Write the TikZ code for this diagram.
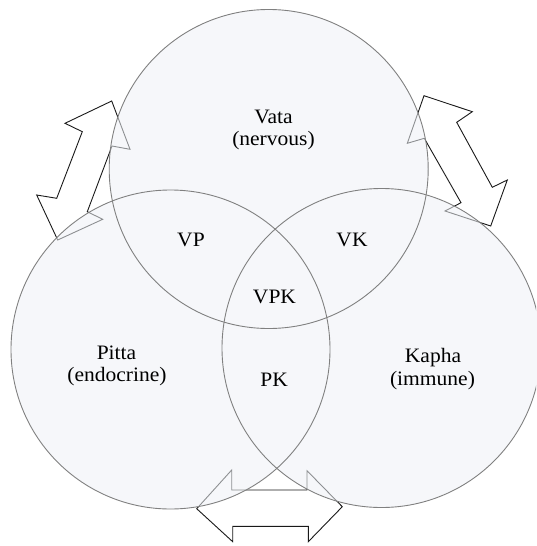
\documentclass[tikz,border=0pt]{standalone}
\usepackage{fontspec}
\setmainfont[FakeStretch=1.05]{Liberation Serif}
\definecolor{circfill}{RGB}{238,241,246}
\definecolor{circline}{RGB}{128,128,128}
\definecolor{arrline}{RGB}{25,25,25}
\tikzset{
  lbl/.style={anchor=base, inner sep=0pt, font=\fontsize{20.5}{22.5}\selectfont},
  blockarrow/.style={draw=arrline, line width=0.9pt, line join=miter},
  circfillstyle/.style={fill=circfill},
  circlinestyle/.style={draw=circline, line width=0.9pt}
}
\begin{document}
\begin{tikzpicture}[x=1pt,y=-1pt]
\useasboundingbox (0,0) rectangle (536,546);
\clip (0,0) rectangle (536,546);
% block arrows (drawn first, circles are laid over them)
\draw[blockarrow] (111.7,101) -- (65,123.3) -- (82.3,131.7) -- (56.7,198.3) -- (36.7,195)
  -- (57.7,240) -- (102.7,219.3) -- (87.3,211.7) -- (112,146) -- (130,149.3) -- cycle;
\draw[blockarrow] (424,95.7) -- (472.3,111.7) -- (456.7,122.3) -- (492.3,187.3) -- (507.3,180)
  -- (490.7,226) -- (445,211) -- (461,202.7) -- (424.3,138.3) -- (407.3,143.3) -- cycle;
\draw[blockarrow] (196.7,508.7) -- (231.7,470) -- (231.7,490) -- (307,490) -- (307,470.7)
  -- (342.3,506.7) -- (308.3,541.7) -- (308.3,526.3) -- (232.7,526.3) -- (232.7,541.7) -- cycle;
% circle fills, as one translucent layer
\coordinate (cv) at (268.7,169);
\coordinate (cp) at (170.5,349.5);
\coordinate (ck) at (381.5,348);
\begin{scope}[transparency group, opacity=0.55]
\fill[circfillstyle] (cv) circle[radius=159.5];
\fill[circfillstyle] (cp) circle[radius=159.5];
\fill[circfillstyle] (ck) circle[radius=159.5];
\end{scope}
% circle outlines
\draw[circlinestyle] (cv) circle[radius=159.5];
\draw[circlinestyle] (cp) circle[radius=159.5];
\draw[circlinestyle] (ck) circle[radius=159.5];
% labels
\node[lbl] (vata1) at (273.5,123) {Vata};
\node[lbl] (vata2) at (273.5,145) {(nervous)};
\node[lbl] (pitta1) at (116.5,359) {Pitta};
\node[lbl] (pitta2) at (117,381) {(endocrine)};
\node[lbl] (kapha1) at (433,362) {Kapha};
\node[lbl] (kapha2) at (432.5,385) {(immune)};
\node[lbl] (vp) at (191,246.5) {VP};
\node[lbl] (vk) at (352,246.5) {VK};
\node[lbl] (vpk) at (274.5,303.3) {VPK};
\node[lbl] (pk) at (274.2,386.5) {PK};
\end{tikzpicture}
\end{document}
